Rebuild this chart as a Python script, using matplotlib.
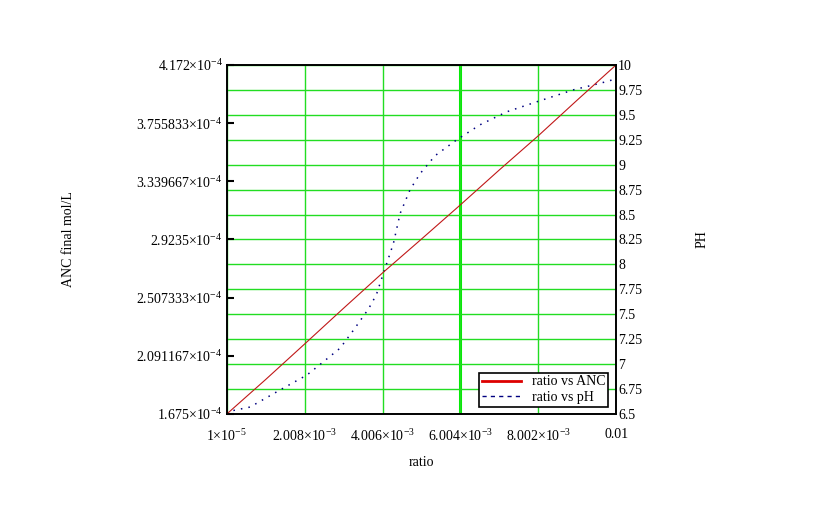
import matplotlib
matplotlib.use("Agg")
import matplotlib.pyplot as plt

plt.rcParams['font.family'] = ['Liberation Serif', 'DejaVu Serif']
plt.rcParams['mathtext.fontset'] = 'custom'
plt.rcParams['mathtext.rm'] = 'Liberation Serif'
plt.rcParams['mathtext.it'] = 'Liberation Serif:italic'

# data
ratio = [1e-5, 1.13e-4, 6.08e-4, 1.462e-3, 2.063e-3, 2.319e-3, 2.917e-3, 3.259e-3,
         3.603e-3, 3.731e-3, 3.859e-3, 4.028e-3, 4.285e-3, 4.457e-3, 4.713e-3,
         4.970e-3, 5.355e-3, 5.912e-3, 6.510e-3, 7.195e-3, 7.964e-3, 8.904e-3,
         9.632e-3, 1e-2]
ph = [6.50, 6.53, 6.57, 6.76, 6.89, 6.97, 7.16, 7.34, 7.53, 7.61, 7.71, 7.91,
      8.21, 8.51, 8.75, 8.91, 9.09, 9.25, 9.40, 9.53, 9.63, 9.75, 9.82, 9.86]

ratio_anc = [1e-5, 1.0e-3, 2.008e-3, 3.0e-3, 4.006e-3, 5.0e-3, 6.004e-3, 7.0e-3,
             8.002e-3, 9.0e-3, 1e-2]
anc = [1.675e-4, 1.92e-4, 2.176e-4, 2.43e-4, 2.684e-4, 2.925e-4, 3.171e-4,
       3.42e-4, 3.665e-4, 3.92e-4, 4.172e-4]

x_ticks = [1e-5, 2.008e-3, 4.006e-3, 6.004e-3, 8.002e-3, 1e-2]
x_labels = [r'1$\times$10$^{-5}$', r'2.008$\times$10$^{-3}$', r'4.006$\times$10$^{-3}$',
            r'6.004$\times$10$^{-3}$', r'8.002$\times$10$^{-3}$', '0.01']
anc_ticks = [1.675e-4, 2.091167e-4, 2.507333e-4, 2.9235e-4, 3.339667e-4, 3.755833e-4, 4.172e-4]
anc_labels = [r'1.675$\times$10$^{-4}$', r'2.091167$\times$10$^{-4}$', r'2.507333$\times$10$^{-4}$',
              r'2.9235$\times$10$^{-4}$', r'3.339667$\times$10$^{-4}$', r'3.755833$\times$10$^{-4}$',
              r'4.172$\times$10$^{-4}$']
ph_ticks = [6.5, 6.75, 7, 7.25, 7.5, 7.75, 8, 8.25, 8.5, 8.75, 9, 9.25, 9.5, 9.75, 10]
ph_labels = ['6.5', '6.75', '7', '7.25', '7.5', '7.75', '8', '8.25', '8.5', '8.75',
             '9', '9.25', '9.5', '9.75', '10']
marker_x = 6.004e-3

fig = plt.figure(figsize=(8.4, 5.25), dpi=100)
ax = fig.add_axes([0.27, 0.2114, 0.4635, 0.665])   # pH axis (right side)
ax2 = ax.twinx()                                     # ANC axis (left side)

green = '#22dd22'
ax.set_xlim(1e-5, 1e-2)
ax.set_ylim(6.5, 10)
ax.set_xticks(x_ticks)
ax.set_xticklabels(x_labels, fontsize=10)
ax.set_yticks(ph_ticks)
ax.set_yticklabels(ph_labels, fontsize=10)
ax.yaxis.tick_right()
ax.yaxis.set_label_position('right')
ax.tick_params(axis='both', length=0, pad=1.5)
ax.tick_params(axis='x', pad=10)
ax.grid(True, color=green, linewidth=1)
ax.axvline(marker_x, color='#00ee00', linewidth=2.2, zorder=1)

ax.plot(ratio, ph, color='#000080', linestyle=(0, (1, 4)), linewidth=1.1,
        label='ratio vs pH')

ax2.set_ylim(1.675e-4, 4.172e-4)
ax2.set_yticks(anc_ticks)
ax2.set_yticklabels(anc_labels, fontsize=10)
ax2.yaxis.tick_left()
ax2.yaxis.set_label_position('left')
ax2.tick_params(axis='y', direction='in', length=5, width=1.5, pad=3)
ax2.plot(ratio_anc, anc, color='#c01818', linewidth=0.8, label='ratio vs ANC')

for a in (ax, ax2):
    for s in a.spines.values():
        s.set_linewidth(1.2)

ax2.set_ylabel('ANC final mol/L', fontsize=10, labelpad=44)
ax.set_ylabel('PH', fontsize=10, labelpad=38)
ax.set_xlabel('ratio', fontsize=10, labelpad=9)

leg_red = plt.Line2D([], [], color='#dd0000', linewidth=2)
leg_blue = plt.Line2D([], [], color='#000080', linestyle=(0, (3, 3)), linewidth=1)
leg = ax2.legend([leg_red, leg_blue], ['ratio vs ANC', 'ratio vs pH'],
                 loc='lower right', bbox_to_anchor=(0.98, 0.02), fontsize=10,
                 fancybox=False, edgecolor='black', framealpha=1,
                 handlelength=2.8, borderpad=0.2, labelspacing=0.2, borderaxespad=0)
leg.get_frame().set_linewidth(1.2)

fig.savefig('out.png', dpi=100)
